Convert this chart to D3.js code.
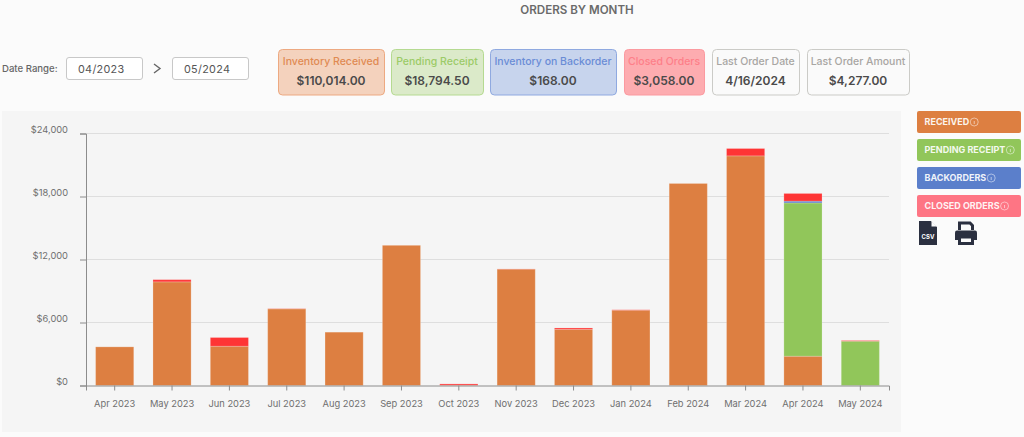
<!DOCTYPE html>
<html><head><meta charset="utf-8">
<script src="https://cdnjs.cloudflare.com/ajax/libs/d3/7.8.5/d3.min.js"></script>
<style>
html,body{margin:0;padding:0;background:#fbfbfb;overflow:hidden}
svg{display:block}
text{font-family:Inter,"Noto Sans",sans-serif}
</style></head><body>
<svg id="c" width="1024" height="437"></svg>
<script>
const months=["Apr 2023","May 2023","Jun 2023","Jul 2023","Aug 2023","Sep 2023","Oct 2023","Nov 2023","Dec 2023","Jan 2024","Feb 2024","Mar 2024","Apr 2024","May 2024"];
const received=[3680,9870,3740,7300,5080,13350,30,11080,5350,7170,19240,21870,2790,0];
const pending=[0,0,0,0,0,0,0,0,0,0,0,0,14600,4220];
const backorders=[0,0,0,0,0,0,0,0,0,0,0,0,168,0];
const closed=[0,210,830,20,0,0,120,20,130,40,0,700,730,60];
const seriesKeys=["received","pending","backorders","closed"];
const seriesColors=["#dd7f41","#91c65a","#5b7fcb","#fe3535"];
const yTicks=[0,6000,12000,18000,24000];
const pageTitle="ORDERS BY MONTH";
const dateLabel="Date Range:";
const dateFrom="04/2023";
const dateTo="05/2024";
const cardTitles=["Inventory Received","Pending Receipt","Inventory on Backorder","Closed Orders","Last Order Date","Last Order Amount"];
const cardValues=["$110,014.00","$18,794.50","$168.00","$3,058.00","4/16/2024","$4,277.00"];
const cardLeft=[278,391,490,624,712,807];
const cardRight=[384,483,616,704,799,909];
const cardFill=["#f4d2bd","#dbeac9","#c7d4ed","#fdacb0","#fafafa","#fafafa"];
const cardStroke=["#eda981","#b5da91","#8fa9e0","#fb9aa0","#cbcbc7","#cbcbc7"];
const cardInk=["#e08a52","#9ccb68","#6a8cd6","#fe7f89","#a8a6a3","#a8a6a3"];
const legendLabels=["RECEIVED","PENDING RECEIPT","BACKORDERS","CLOSED ORDERS"];
const legendFill=["#dd7f41","#91c65a","#5b7fcb","#fe7584"];

const svg=d3.select("#c");
// panel
svg.append("rect").attr("x",2).attr("y",111).attr("width",899).attr("height",321).attr("fill","#f5f5f5");

const x=d3.scaleBand().domain(months).range([86,889]).paddingInner(0.335).paddingOuter(0.1675);
const y=d3.scaleLinear().domain([0,24000]).range([385.5,133.5]);

// grid
svg.append("g").selectAll("line").data(yTicks.slice(1)).join("line")
 .attr("x1",86).attr("x2",889).attr("y1",d=>y(d)).attr("y2",d=>y(d))
 .attr("stroke","#dedede").attr("stroke-width",1);

// bars
const table=months.map((m,i)=>({month:m,received:received[i],pending:pending[i],backorders:backorders[i],closed:closed[i]}));
const stack=d3.stack().keys(seriesKeys)(table);
svg.append("g").selectAll("g").data(stack).join("g").attr("fill",(d,i)=>seriesColors[i])
 .selectAll("rect").data(d=>d.filter(p=>p[1]>p[0])).join("rect")
 .attr("x",d=>x(d.data.month)).attr("width",x.bandwidth())
 .attr("y",d=>y(d[1])).attr("height",d=>y(d[0])-y(d[1]))
 .attr("stroke","#fff").attr("stroke-opacity",0.2).attr("stroke-width",1);

// axes
const ax=svg.append("g").attr("transform","translate(0,385.5)")
 .call(d3.axisBottom(x).tickSize(5).tickPadding(10));
const ay=svg.append("g").attr("transform","translate(86,0)")
 .call(d3.axisLeft(y).tickValues(yTicks).tickSize(6).tickPadding(12).tickFormat(d=>"$"+d3.format(",")(d)));
[ax,ay].forEach(a=>{
 a.selectAll("path,line").attr("stroke","#8c8c8c");
 a.select(".domain").attr("stroke-width",1);
 a.selectAll("text").attr("fill","#6f6f6f").style("font-family","Inter,sans-serif").style("font-size","9.3px");
});
ay.selectAll(".tick text").attr("dy","-0.15em");

// title
svg.append("text").attr("x",577).attr("y",14).attr("text-anchor","middle")
 .attr("font-size",11.6).attr("font-weight",600).attr("fill","#6a6a6a").text(pageTitle);

// date range
svg.append("text").attr("x",2).attr("y",71.5).attr("font-size",9.6).attr("font-weight",500).attr("fill","#666").text(dateLabel);
[[66,dateFrom],[172,dateTo]].forEach(([l,t])=>{
 svg.append("rect").attr("x",l+.5).attr("y",57.5).attr("width",76).attr("height",22).attr("rx",2.5)
  .attr("fill","#fff").attr("stroke","#c8c8c8");
 svg.append("text").attr("x",l+12).attr("y",72.5).attr("font-size",10.8).attr("letter-spacing",.3).attr("fill","#555").text(t);
});
svg.append("path").attr("d","M154 64L160 68.5L154 73").attr("fill","none").attr("stroke","#666").attr("stroke-width",1.4);

// cards
const cards=svg.append("g").selectAll("g").data(cardTitles).join("g");
cards.append("rect")
 .attr("x",(d,i)=>cardLeft[i]+.5).attr("y",49.5)
 .attr("width",(d,i)=>cardRight[i]-cardLeft[i]).attr("height",45.5).attr("rx",4)
 .attr("fill",(d,i)=>cardFill[i]).attr("stroke",(d,i)=>cardStroke[i]);
cards.append("text").attr("x",(d,i)=>(cardLeft[i]+cardRight[i])/2).attr("y",64.5).attr("text-anchor","middle")
 .attr("font-size",10.5).attr("font-weight",500).attr("fill",(d,i)=>cardInk[i]).text(d=>d);
cards.append("text").attr("x",(d,i)=>(cardLeft[i]+cardRight[i])/2).attr("y",85).attr("text-anchor","middle")
 .attr("font-size",12).attr("font-weight",600).attr("fill","#4a4a4a").text((d,i)=>cardValues[i]);

// legend
const leg=svg.append("g").selectAll("g").data(legendLabels).join("g")
 .attr("transform",(d,i)=>`translate(917,${111+i*28})`);
leg.append("rect").attr("width",104).attr("height",22).attr("rx",2).attr("fill",(d,i)=>legendFill[i]);
const lt=leg.append("text").attr("x",7.5).attr("y",14).attr("font-size",9).attr("font-weight",700).attr("fill","#fff").attr("fill-opacity",.92).text(d=>d);
leg.each(function(){
 const g=d3.select(this), w=g.select("text").node().getComputedTextLength();
 const cx=7.5+w+5;
 g.append("circle").attr("cx",cx).attr("cy",11).attr("r",4).attr("fill","none").attr("stroke","#fff").attr("stroke-opacity",.7).attr("stroke-width",.7);
 g.append("line").attr("x1",cx).attr("x2",cx).attr("y1",10).attr("y2",13).attr("stroke","#fff").attr("stroke-opacity",.8).attr("stroke-width",.7);
});

// icons
svg.append("path").attr("d","M919 221H931L937 227V245H919Z").attr("fill","#2b3040");
svg.append("path").attr("d","M931.5 221L937 226.5H931.5Z").attr("fill","#fbfbfb");
svg.append("text").attr("x",928).attr("y",239).attr("text-anchor","middle").attr("font-size",6).attr("font-weight",700).attr("fill","#fff").text("CSV");
const pr=svg.append("g").attr("fill","none").attr("stroke","#2b3040");
pr.append("path").attr("d","M959.5 230V223H970L972.5 225.5V230").attr("stroke-width",3);
pr.append("path").attr("d","M955 232.5Q955 230.5 957 230.5H975Q977 230.5 977 232.5V240H955Z").attr("fill","#2b3040").attr("stroke","none");
pr.append("rect").attr("x",959.5).attr("y",237).attr("width",13).attr("height",6.5).attr("fill","#fbfbfb").attr("stroke-width",3);
</script>
</body></html>
